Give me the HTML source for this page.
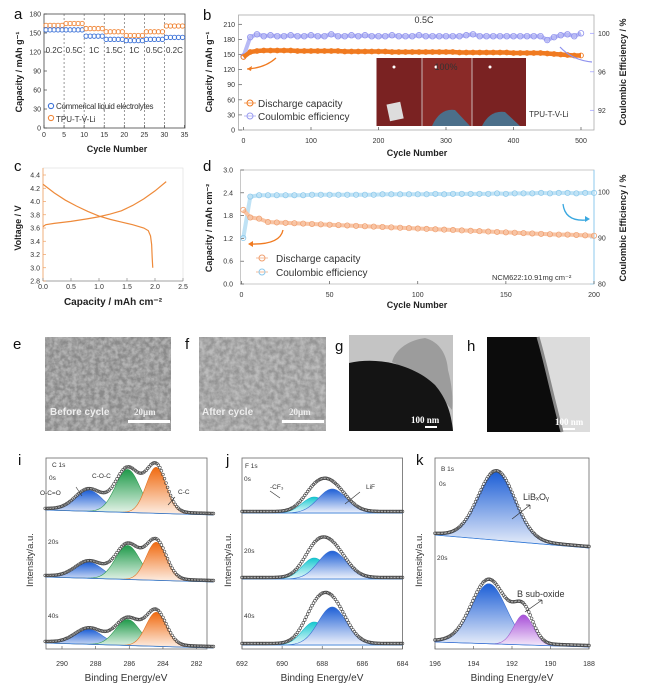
<!DOCTYPE html>
<html><head><meta charset="utf-8">
<style>
html,body{margin:0;padding:0;background:#fff;}
svg{display:block;font-family:"Liberation Sans",Arial,sans-serif;}
.t{font-size:7px;fill:#333;}
.lab{font-size:9px;font-weight:bold;fill:#222;}
.let{font-size:15px;fill:#111;}
</style></head>
<body>
<svg id="fig" width="655" height="691" viewBox="0 0 655 691">
<defs>
<filter id="sem" x="0" y="0" width="100%" height="100%"><feTurbulence type="fractalNoise" baseFrequency="0.22" numOctaves="3" seed="4"/><feColorMatrix type="matrix" values="0 0 0 0 0.45 0 0 0 0 0.45 0 0 0 0 0.45 0 0 0 -2.2 1.6"/></filter>
<filter id="sem2" x="0" y="0" width="100%" height="100%"><feTurbulence type="fractalNoise" baseFrequency="0.2" numOctaves="3" seed="9"/><feColorMatrix type="matrix" values="0 0 0 0 0.5 0 0 0 0 0.5 0 0 0 0 0.5 0 0 0 -2 1.5"/></filter>
<linearGradient id="gBlue" x1="0" y1="0" x2="0" y2="1"><stop offset="0" stop-color="#1d5fd6"/><stop offset="1" stop-color="#eef2fb"/></linearGradient>
<linearGradient id="gGreen" x1="0" y1="0" x2="0" y2="1"><stop offset="0" stop-color="#1f9a4a"/><stop offset="1" stop-color="#eef8f0"/></linearGradient>
<linearGradient id="gOrange" x1="0" y1="0" x2="0" y2="1"><stop offset="0" stop-color="#f06a10"/><stop offset="1" stop-color="#fdf0e6"/></linearGradient>
<linearGradient id="gCyan" x1="0" y1="0" x2="0" y2="1"><stop offset="0" stop-color="#15c8d0"/><stop offset="1" stop-color="#eafafb"/></linearGradient>
<linearGradient id="gPurple" x1="0" y1="0" x2="0" y2="1"><stop offset="0" stop-color="#a84fd8"/><stop offset="1" stop-color="#f6eefb"/></linearGradient>
</defs>
<g id="static">
<text class="let" x="14" y="19">a</text>
<text class="let" x="203" y="20">b</text>
<text class="let" x="14" y="171">c</text>
<text class="let" x="203" y="171">d</text>
<text class="let" x="13" y="349">e</text>
<text class="let" x="185" y="349">f</text>
<text class="let" x="335" y="351">g</text>
<text class="let" x="467" y="351">h</text>
<text class="let" x="18" y="465">i</text>
<text class="let" x="226" y="465">j</text>
<text class="let" x="416" y="465">k</text>

<g>
<rect x="45" y="337" width="126" height="94" fill="#8a8a8a"/>
<rect x="45" y="337" width="126" height="94" filter="url(#sem)"/>
<text x="50" y="415" font-size="10" font-weight="bold" fill="#eee">Before cycle</text>
<text x="134" y="415" font-size="9" font-weight="bold" fill="#eee" font-family="Liberation Serif, serif">20μm</text>
<rect x="128" y="420" width="42" height="3" fill="#fff"/>
</g>
<g>
<rect x="199" y="337" width="127" height="94" fill="#959595"/>
<rect x="199" y="337" width="127" height="94" filter="url(#sem2)"/>
<text x="202" y="415" font-size="10" font-weight="bold" fill="#eee">After cycle</text>
<text x="289" y="415" font-size="9" font-weight="bold" fill="#eee" font-family="Liberation Serif, serif">20μm</text>
<rect x="282" y="420" width="42" height="3" fill="#fff"/>
</g>
<g>
<rect x="349" y="335" width="104" height="96" fill="#c4c4c4"/>
<path d="M392,362 C396,348 410,340 425,338 C440,342 447,355 448,370 C452,385 453,398 452,410 C440,395 420,375 392,362 Z" fill="#9c9c9c"/>
<path d="M349,363 C380,356 415,366 435,385 C446,398 451,412 453,431 L349,431 Z" fill="#141414"/>
<text x="411" y="423" font-size="9" font-weight="bold" fill="#fff" font-family="Liberation Serif, serif">100 nm</text>
<rect x="425" y="426" width="12" height="2" fill="#fff"/>
</g>
<g>
<rect x="487" y="337" width="103" height="95" fill="#dcdcdc"/>
<path d="M487,337 L538,337 C545,360 552,395 562,432 L487,432 Z" fill="#0c0c0c"/>
<path d="M538,337 C545,360 552,395 562,432" stroke="#888" stroke-width="3" fill="none"/>
<text x="555" y="425" font-size="9" font-weight="bold" fill="#fff" font-family="Liberation Serif, serif">100 nm</text>
<rect x="563" y="428" width="12" height="2" fill="#fff"/>
</g>
</g>
<g id="charts"></g>
</svg>
<script>
// ---------- DATA ----------
const aRates = ["0.2C","0.5C","1C","1.5C","1C","0.5C","0.2C"];
const aTpu = [162,165,157,152,146,152,161];
const aCommercial = [155,155,145,140,138,140,143];
const aYTicks = [0,30,60,90,120,150,180];
const aXTicks = [0,5,10,15,20,25,30,35];
const bCycles = [0,10,20,30,40,50,60,70,80,90,100,110,120,130,140,150,160,170,180,190,200,210,220,230,240,250,260,270,280,290,300,310,320,330,340,350,360,370,380,390,400,410,420,430,440,450,460,470,480,490,500];
const bCapacity = [145,155,157,158,158,158,158,158,157,157,157,157,157,157,157,156,156,156,156,156,156,156,155,155,155,155,155,155,155,155,155,155,154,154,154,154,154,154,154,154,153,153,153,153,153,152,151,150,149,148,148];
const bCE = [97.6,99.6,99.9,99.7,99.8,99.7,99.7,99.8,99.7,99.7,99.8,99.7,99.7,99.9,99.7,99.7,99.8,99.7,99.8,99.7,99.7,99.7,99.8,99.7,99.7,99.7,99.8,99.7,99.7,99.7,99.7,99.7,99.7,99.8,99.9,99.7,99.7,99.7,99.7,99.7,99.7,99.7,99.7,99.7,99.7,99.3,99.6,99.8,99.9,99.7,100];
const bYTicks = [0,30,60,90,120,150,180,210];
const bY2Ticks = [92,96,100];
const bXTicks = [0,100,200,300,400,500];
const cChargeCap = [0,0.05,0.2,0.5,0.8,1.0,1.2,1.4,1.6,1.8,2.0,2.2];
const cChargeV = [3.62,3.65,3.67,3.70,3.74,3.77,3.81,3.86,3.94,4.04,4.16,4.30];
const cDisCap = [0,0.2,0.4,0.6,0.8,1.0,1.2,1.4,1.6,1.8,1.88,1.92,1.94,1.95,1.96];
const cDisV = [4.26,4.13,4.02,3.93,3.85,3.78,3.73,3.69,3.65,3.60,3.56,3.48,3.35,3.15,3.00];
const cYTicks = [2.8,3.0,3.2,3.4,3.6,3.8,4.0,4.2,4.4];
const cXTicks = [0.0,0.5,1.0,1.5,2.0,2.5];
const dCycles = [1,5,10,15,20,25,30,35,40,45,50,55,60,65,70,75,80,85,90,95,100,105,110,115,120,125,130,135,140,145,150,155,160,165,170,175,180,185,190,195,200];
const dCapacity = [1.95,1.75,1.72,1.63,1.62,1.61,1.60,1.59,1.58,1.57,1.56,1.55,1.54,1.53,1.52,1.51,1.50,1.49,1.48,1.47,1.46,1.45,1.44,1.43,1.42,1.41,1.40,1.39,1.38,1.37,1.36,1.35,1.34,1.33,1.32,1.31,1.30,1.30,1.29,1.28,1.27];
const dCE = [90,99.0,99.3,99.3,99.3,99.3,99.3,99.3,99.4,99.4,99.4,99.4,99.4,99.4,99.4,99.4,99.5,99.5,99.5,99.5,99.5,99.5,99.6,99.5,99.6,99.6,99.6,99.6,99.6,99.7,99.6,99.7,99.7,99.7,99.8,99.7,99.8,99.8,99.7,99.8,99.8];
const dYTicks = [0.0,0.6,1.2,1.8,2.4,3.0];
const dY2Ticks = [80,90,100];
const dXTicks = [0,50,100,150,200];
const iCenters = [288.4,286.1,284.4];
const iHeights0 = [21,43,46];
const iHeights20 = [16,34,38];
const iHeights40 = [15,26,34];
const iSigma = [0.8,0.72,0.6];
const jCenters = [688.4,687.5];
const jHeights0 = [16,24];
const jHeights20 = [21,28];
const jHeights40 = [23,38];
const jSigma = [0.6,0.7];
const kCenters0 = [192.8];
const kHeights0 = [68];
const kSigma0 = [0.95];
const kCenters20 = [193.2,191.4];
const kHeights20 = [60,30];
const kSigma20 = [0.9,0.5];
const iXTicks = [290,288,286,284,282];
const jXTicks = [692,690,688,686,684];
const kXTicks = [196,194,192,190,188];

const NS = "http://www.w3.org/2000/svg";
const root = document.getElementById('charts');
function mk(tag, attrs, parent, txt){
  const e = document.createElementNS(NS, tag);
  for (const k in attrs) e.setAttribute(k, attrs[k]);
  if (txt !== undefined) e.textContent = txt;
  (parent||root).appendChild(e);
  return e;
}
function lin(d0,d1,r0,r1){return v=>r0+(v-d0)*(r1-r0)/(d1-d0);}
function grp(name){
  const g = mk('g',{});
  
  
  return g;
}
function label(g,x,y,txt,cls,anchor,rot,name,extra){
  const a = {x:x,y:y,class:cls||'t','text-anchor':anchor||'middle'};
  if (rot) a.transform = 'rotate(-90 '+x+' '+y+')';
  if (extra) for (const k in extra) a[k]=extra[k];
  const t = mk('text',a,g,txt);
  
  
  return t;
}
function box(g,x0,y0,x1,y1,col){
  mk('rect',{x:x0,y:y0,width:x1-x0,height:y1-y0,fill:'none',stroke:col||'#444','stroke-width':0.8},g);
}
function circ(g,x,y,r,col,sw){
  mk('circle',{cx:x,cy:y,r:r,fill:'none',stroke:col,'stroke-width':sw||0.9},g);
}

(function(){
  const g = grp('rate-capability-chart');
  const X = lin(0,35,44,184.5), Y = lin(0,180,128,14);
  box(g,44,14,185,128);
  aYTicks.forEach(v=>{mk('line',{x1:44,y1:Y(v),x2:47,y2:Y(v),stroke:'#444','stroke-width':0.7},g);
    label(g,41,Y(v)+2.5,String(v),'t','end',false,'a-y-tick');});
  aXTicks.forEach(v=>{mk('line',{x1:X(v),y1:128,x2:X(v),y2:125,stroke:'#444','stroke-width':0.7},g);
    label(g,X(v),137,String(v),'t','middle',false,'a-x-tick');});
  for (let s=1;s<aRates.length;s++) mk('line',{x1:X(s*5),y1:14,x2:X(s*5),y2:128,stroke:'#555','stroke-width':0.6,'stroke-dasharray':'2,2'},g);
  aRates.forEach((r,s)=>{
    label(g,X(s*5+2.5),53,r,'t','middle',false,'rate-label',{style:'font-size:8px'});
    for(let c=1;c<=5;c++){
      const cyc = s*5+c-0.5;
      const o = mk('circle',{cx:X(cyc),cy:Y(aTpu[s]),r:2.2,fill:'none',stroke:'#f0883c','stroke-width':0.9},g);
      
      
      const b = mk('circle',{cx:X(cyc),cy:Y(aCommercial[s]),r:2.2,fill:'none',stroke:'#3f74d8','stroke-width':0.9},g);
      
      
    }
  });
  circ(g,51,106,2.6,'#3f74d8',1.1);
  label(g,56,109,'Commerical liquid electrolytes','t','start',false,'legend-commercial',{style:'font-size:8px;letter-spacing:-0.3px'});
  circ(g,51,118,2.6,'#f0883c',1.1);
  label(g,56,122,'TPU-T-V-Li','t','start',false,'legend-tpu',{style:'font-size:8px'});
  label(g,117,152,'Cycle Number','lab','middle',false,'a-x-axis-title');
  label(g,22,72,'Capacity / mAh g⁻¹','lab','middle',true,'a-y-axis-title');
})();

(function(){
  const g = grp('long-cycling-chart');
  const X = lin(0,500,243.5,581), Y = lin(0,210,130,24.3), Y2 = lin(100,92,33.3,110.3);
  box(g,238.5,15,594,130,'#aaa');
  bYTicks.forEach(v=>{mk('line',{x1:238.5,y1:Y(v),x2:242,y2:Y(v),stroke:'#555','stroke-width':0.7},g);
    label(g,235,Y(v)+2.5,String(v),'t','end',false,'b-y-tick');});
  bY2Ticks.forEach(v=>{mk('line',{x1:594,y1:Y2(v),x2:590,y2:Y2(v),stroke:'#99f','stroke-width':0.7},g);
    label(g,598,Y2(v)+2.5,String(v),'t','start',false,'b-y2-tick',{fill:'#9a9cf0'});});
  bXTicks.forEach(v=>{mk('line',{x1:X(v),y1:130,x2:X(v),y2:127,stroke:'#555','stroke-width':0.7},g);
    label(g,X(v),143,String(v),'t','middle',false,'b-x-tick');});
  mk('polyline',{points:bCycles.map((c,i)=>X(c)+','+Y2(bCE[i])).join(' '),fill:'none',stroke:'#b8baf5','stroke-width':4},g);
  bCycles.forEach((c,i)=>{const p=mk('circle',{cx:X(c),cy:Y2(bCE[i]),r:2.8,fill:'none',stroke:'#8f92ee','stroke-width':0.8},g);
    
    });
  mk('polyline',{points:bCycles.map((c,i)=>X(c)+','+Y(bCapacity[i])).join(' '),fill:'none',stroke:'#f07a20','stroke-width':4.5},g);
  bCycles.forEach((c,i)=>{const p=mk('circle',{cx:X(c),cy:Y(bCapacity[i]),r:2.4,fill:'none',stroke:'#f07a20','stroke-width':0.9},g);
    
    });
  mk('path',{d:'M276,58 Q265,68 247,69',fill:'none',stroke:'#f07a20','stroke-width':1.2},g);
  mk('path',{d:'M247,69 l5,-3 l-1,5 z',fill:'#f07a20'},g);
  mk('path',{d:'M560,47 Q572,60 592,62',fill:'none',stroke:'#8f92ee','stroke-width':1.2},g);
  const ph = grp('battery-photo-inset');
  mk('rect',{x:376.5,y:58,width:149.5,height:68,fill:'#7a2222'},ph);
  mk('rect',{x:422,y:58,width:50,height:68,fill:'#8a2a28'},ph);
  mk('line',{x1:422,y1:58,x2:422,y2:126,stroke:'#ddd','stroke-width':0.8},ph);
  mk('line',{x1:472,y1:58,x2:472,y2:126,stroke:'#ddd','stroke-width':0.8},ph);
  mk('rect',{x:388,y:103,width:14,height:17,fill:'#ddd',transform:'rotate(-12 395 111)'},ph);
  mk('path',{d:'M432,126 Q440,108 455,110 L470,126 Z',fill:'#4b6f8a'},ph);
  mk('path',{d:'M482,126 Q490,110 505,112 L520,126 Z',fill:'#4b6f8a'},ph);
  [[394,67],[436,67],[490,67]].forEach(p=>mk('circle',{cx:p[0],cy:p[1],r:1.5,fill:'#fff'},ph));
  label(ph,446,70,'100%','t','middle',false,'inset-percent',{style:'font-size:9px',fill:'#222'});
  label(g,424,23,'0.5C','t','middle',false,'b-rate-label',{style:'font-size:9px'});
  label(g,529,117,'TPU-T-V-Li','t','start',false,'b-sample-label',{style:'font-size:8px'});
  mk('line',{x1:244,y1:103,x2:256,y2:103,stroke:'#f07a20','stroke-width':0.7},g);
  circ(g,250,103,3,'#f07a20',1);
  label(g,258,107,'Discharge capacity','t','start',false,'legend-discharge',{style:'font-size:10px',fill:'#f07a20'});
  mk('line',{x1:244,y1:116,x2:256,y2:116,stroke:'#9a9cf0','stroke-width':0.7},g);
  circ(g,250,116,3,'#9a9cf0',1);
  label(g,258,120,'Coulombic efficiency','t','start',false,'legend-ce',{style:'font-size:10px',fill:'#9a9cf0'});
  label(g,417,156,'Cycle Number','lab','middle',false,'b-x-axis-title');
  label(g,212,72,'Capacity / mAh g⁻¹','lab','middle',true,'b-y-axis-title');
  label(g,626,72,'Coulombic Efficiency / %','lab','middle',true,'b-y2-axis-title');
})();

(function(){
  const g = grp('voltage-profile-chart');
  const X = lin(0,2.5,43,183), Y = lin(2.8,4.4,281,175);
  mk('rect',{x:43,y:168,width:140,height:113,fill:'none',stroke:'#ddd','stroke-width':0.6},g);
  mk('line',{x1:43,y1:168,x2:43,y2:281,stroke:'#f0a060','stroke-width':0.8},g);
  mk('line',{x1:43,y1:281,x2:183,y2:281,stroke:'#888','stroke-width':0.8},g);
  cYTicks.forEach(v=>{mk('line',{x1:43,y1:Y(v),x2:46,y2:Y(v),stroke:'#f0a060','stroke-width':0.7},g);
    label(g,40,Y(v)+2.5,v.toFixed(1),'t','end',false,'c-y-tick');});
  cXTicks.forEach(v=>{mk('line',{x1:X(v),y1:281,x2:X(v),y2:278,stroke:'#888','stroke-width':0.7},g);
    label(g,X(v),289,v.toFixed(1),'t','middle',false,'c-x-tick');});
  const ch = mk('polyline',{points:cChargeCap.map((c,i)=>X(c)+','+Y(cChargeV[i])).join(' '),fill:'none',stroke:'#ee8a3a','stroke-width':1.2},g);
  
  
  const dc = mk('polyline',{points:cDisCap.map((c,i)=>X(c)+','+Y(cDisV[i])).join(' '),fill:'none',stroke:'#ee8a3a','stroke-width':1.2},g);
  
  
  label(g,113,305,'Capacity / mAh cm⁻²','lab','middle',false,'c-x-axis-title',{style:'font-size:10px'});
  label(g,21,228,'Voltage / V','lab','middle',true,'c-y-axis-title');
})();

(function(){
  const g = grp('high-loading-cycling-chart');
  const X = lin(0,200,241.5,594), Y = lin(0,3,284,170), Y2 = lin(80,100,284,192);
  box(g,240.5,170,594,284,'#bbb');
  mk('line',{x1:594,y1:170,x2:594,y2:284,stroke:'#8cc9ec','stroke-width':1},g);
  dYTicks.forEach(v=>{mk('line',{x1:240.5,y1:Y(v),x2:244,y2:Y(v),stroke:'#555','stroke-width':0.7},g);
    label(g,233,Y(v)+2.5,v.toFixed(1),'t','end',false,'d-y-tick');});
  dY2Ticks.forEach(v=>{mk('line',{x1:594,y1:Y2(v),x2:590,y2:Y2(v),stroke:'#8cc9ec','stroke-width':0.7},g);
    label(g,598,Y2(v)+2.5,String(v),'t','start',false,'d-y2-tick',{fill:'#8cc9ec'});});
  dXTicks.forEach(v=>{mk('line',{x1:X(v),y1:284,x2:X(v),y2:281,stroke:'#555','stroke-width':0.7},g);
    label(g,X(v),297,String(v),'t','middle',false,'d-x-tick');});
  mk('polyline',{points:dCycles.map((c,i)=>X(c)+','+Y2(dCE[i])).join(' '),fill:'none',stroke:'#bfe2f5','stroke-width':4},g);
  dCycles.forEach((c,i)=>{const p=mk('circle',{cx:X(c),cy:Y2(dCE[i]),r:2.6,fill:'none',stroke:'#8cc9ec','stroke-width':0.8},g);
    
    });
  mk('polyline',{points:dCycles.map((c,i)=>X(c)+','+Y(dCapacity[i])).join(' '),fill:'none',stroke:'#f8c4a4','stroke-width':4},g);
  dCycles.forEach((c,i)=>{const p=mk('circle',{cx:X(c),cy:Y(dCapacity[i]),r:2.6,fill:'none',stroke:'#f0a070','stroke-width':0.8},g);
    
    });
  mk('path',{d:'M283,230 Q280,245 250,244',fill:'none',stroke:'#f07a20','stroke-width':1.3},g);
  mk('path',{d:'M248,244 l5,-3 l0,6 z',fill:'#f07a20'},g);
  mk('path',{d:'M563,204 Q565,222 587,220',fill:'none',stroke:'#3aa8e0','stroke-width':1.3},g);
  mk('path',{d:'M590,219 l-5,-3 l0,6 z',fill:'#3aa8e0'},g);
  mk('line',{x1:256,y1:258,x2:268,y2:258,stroke:'#f0a070','stroke-width':0.7},g);
  circ(g,262,258,3,'#f0a070',1);
  label(g,276,262,'Discharge capacity','t','start',false,'d-legend-discharge',{style:'font-size:10px',fill:'#f07a20'});
  mk('line',{x1:256,y1:272,x2:268,y2:272,stroke:'#f0a070','stroke-width':0.7},g);
  circ(g,262,272,3,'#8cc9ec',1);
  label(g,276,276,'Coulombic efficiency','t','start',false,'d-legend-ce',{style:'font-size:10px',fill:'#5ab8ea'});
  label(g,492,280,'NCM622:10.91mg cm⁻²','t','start',false,'loading-label',{style:'font-size:7.5px'});
  label(g,417,308,'Cycle Number','lab','middle',false,'d-x-axis-title');
  label(g,212,228,'Capacity / mAh cm⁻²','lab','middle',true,'d-y-axis-title');
  label(g,626,228,'Coulombic Efficiency / %','lab','middle',true,'d-y2-axis-title');
})();

function gauss(E,c,h,s){return h*Math.exp(-0.5*((E-c)/s)*((E-c)/s));}
function xps(g,X,e0,e1,baseL,baseR,centers,heights,sigmas,fills,lines,envScale){
  const base = E=>baseL+(e0-E)/(e0-e1)*(baseR-baseL);
  const step=(e0-e1)/200;
  centers.forEach((c,k)=>{
    let top=[];
    for(let E=e0;E>=e1-1e-9;E-=step){top.push(X(E)+','+(base(E)-gauss(E,c,heights[k],sigmas[k])));}
    const d='M'+X(e0)+','+base(e0)+' L'+top.join(' L')+' L'+X(e1)+','+base(e1)+' Z';
    const p=mk('path',{d:d,fill:fills[k],stroke:lines[k],'stroke-width':0.6},g);
    
    
  });
  mk('line',{x1:X(e0),y1:baseL,x2:X(e1),y2:baseR,stroke:'#3a7fd8','stroke-width':0.8},g);
  const es=(e0-e1)/110;
  for(let E=e0;E>=e1-1e-9;E-=es){
    let s=0; centers.forEach((c,k)=>{s+=gauss(E,c,heights[k],sigmas[k]);});
    const p=mk('circle',{cx:X(E),cy:base(E)-s*envScale-1.5,r:1.4,fill:'none',stroke:'#444','stroke-width':0.6},g);
    
    
  }
}
function xpsFrame(g,x0,x1,ticks,X,ylx,cx,name){
  box(g,x0,458,x1,649,'#666');
  ticks.forEach(v=>{mk('line',{x1:X(v),y1:649,x2:X(v),y2:646,stroke:'#666','stroke-width':0.7},g);
    label(g,X(v),666,String(v),'t','middle',false,name+'-x-tick');});
  label(g,cx,681,'Binding Energy/eV','t','middle',false,name+'-x-axis-title',{style:'font-size:10px'});
  label(g,ylx,560,'Intensity/a.u.','t','middle',true,name+'-y-axis-title',{style:'font-size:9.5px'});
}
(function(){
  const g = grp('xps-c1s-chart');
  const X = lin(290,282,62,196.6);
  xpsFrame(g,46,207,iXTicks,X,33,126,'i');
  const f=['url(#gBlue)','url(#gGreen)','url(#gOrange)'], l=['#3a6fd0','#2f9a55','#e07020'];
  xps(g,X,291.0,281.0,510,515,iCenters,iHeights0,iSigma,f,l,1.0);
  xps(g,X,291.0,281.0,577,582,iCenters,iHeights20,iSigma,f,l,1.0);
  xps(g,X,291.0,281.0,643,648,iCenters,iHeights40,iSigma,f,l,1.0);
  [['C 1s',52,467],['0s',49,480],['O-C=O',40,495],['C-O-C',92,478],['C-C',178,494],['20s',48,544],['40s',48,618]].forEach(t=>label(g,t[1],t[2],t[0],'t','start',false,'i-annotation',{style:'font-size:6.5px'}));
})();
(function(){
  const g = grp('xps-f1s-chart');
  const X = lin(692,684,242,402.5);
  xpsFrame(g,242,402.5,jXTicks,X,231,322,'j');
  const f=['url(#gCyan)','url(#gBlue)'], l=['#20b8c8','#3a6fd0'];
  xps(g,X,692,684,513,513,jCenters,jHeights0,jSigma,f,l,1.05);
  xps(g,X,692,684,579,579,jCenters,jHeights20,jSigma,f,l,1.05);
  xps(g,X,692,684,645,645,jCenters,jHeights40,jSigma,f,l,1.05);
  [['F 1s',245,468],['0s',244,481],['-CF₃',270,489],['LiF',366,489],['20s',244,553],['40s',244,618]].forEach(t=>label(g,t[1],t[2],t[0],'t','start',false,'j-annotation',{style:'font-size:6.5px'}));
})();
(function(){
  const g = grp('xps-b1s-chart');
  const X = lin(196,188,435,589);
  xpsFrame(g,435,589,kXTicks,X,422,512,'k');
  xps(g,X,196,188,535,548,kCenters0,kHeights0,kSigma0,['url(#gBlue)'],['#3a6fd0'],1.0);
  xps(g,X,196,188,642,647,kCenters20,kHeights20,kSigma20,['url(#gBlue)','url(#gPurple)'],['#3a6fd0','#a060d0'],1.05);
  [['B 1s',441,471],['0s',439,486],['20s',437,560]].forEach(t=>label(g,t[1],t[2],t[0],'t','start',false,'k-annotation',{style:'font-size:6.5px'}));
  label(g,523,500,'LiBₓOᵧ','t','start',false,'k-libo-label',{style:'font-size:9px'});
  label(g,517,597,'B sub-oxide','t','start',false,'k-suboxide-label',{style:'font-size:9px'});
  mk('path',{d:'M512,519 L530,505 M530,505 l-4,0 M530,505 l0,4',stroke:'#333','stroke-width':0.7,fill:'none'},g);
  mk('path',{d:'M525,612 L542,600 M542,600 l-4,0 M542,600 l0,4',stroke:'#333','stroke-width':0.7,fill:'none'},g);
  mk('path',{d:'M76,487 L82,496 M270,491 L280,498 M360,492 L345,504 M175,497 L168,505',stroke:'#333','stroke-width':0.6,fill:'none'},root);
})();
</script>
</body></html>
